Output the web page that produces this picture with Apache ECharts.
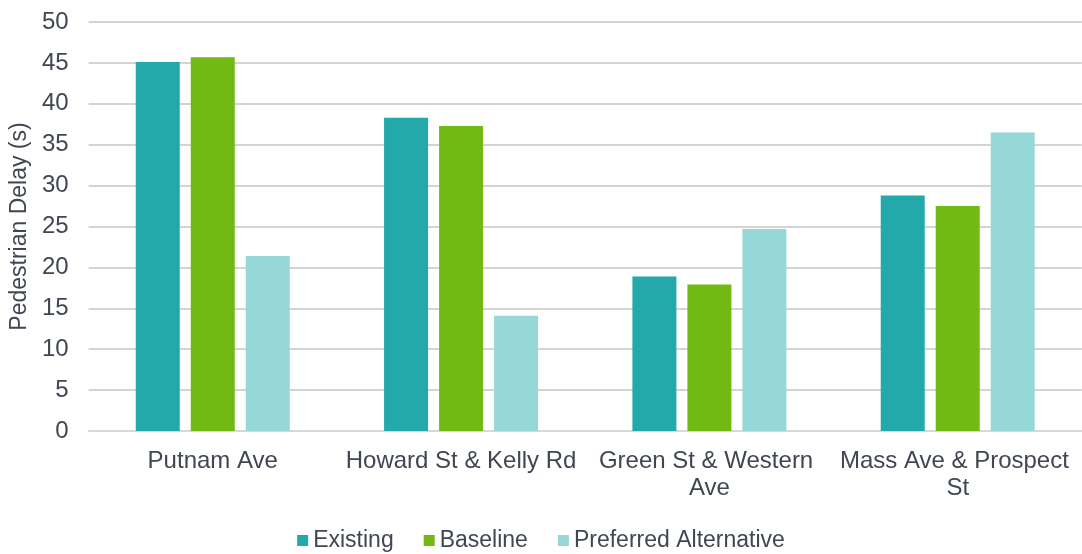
<!DOCTYPE html>
<html><head><meta charset="utf-8">
<script src="https://cdn.jsdelivr.net/npm/echarts@6/dist/echarts.min.js"></script>
<style>html,body{margin:0;padding:0;background:#fff}#c{width:1082px;height:554px}</style>
</head><body><div id="c"></div>
<script>
const categories = ['Putnam Ave', 'Howard St & Kelly Rd', 'Green St & Western Ave', 'Mass Ave & Prospect St'];
const existing = [45.1, 38.3, 18.9, 28.8];
const baseline = [45.7, 37.3, 17.9, 27.5];
const preferred = [21.4, 14.1, 24.7, 36.5];
const yTicks = { min: 0, max: 50, interval: 5 };

const txt = '#404652';
const chart = echarts.init(document.getElementById('c'));
chart.setOption({
  animation: false,
  textStyle: { fontFamily: 'Liberation Sans, Arial, sans-serif' },
  grid: { left: 88, right: -5, top: 22, bottom: 123 },
  legend: {
    top: 524, left: 'center', itemWidth: 11, itemHeight: 11, itemGap: 30,
    icon: 'rect',
    textStyle: { fontSize: 23, color: txt },
    data: ['Existing', 'Baseline', 'Preferred Alternative']
  },
  xAxis: {
    type: 'category', data: categories,
    axisTick: { show: false },
    axisLine: { lineStyle: { color: '#D9D9D9', width: 1.5 } },
    axisLabel: { fontSize: 24, color: txt, margin: 17, width: 244, overflow: 'break', lineHeight: 27, interval: 0 }
  },
  yAxis: {
    type: 'value', min: yTicks.min, max: yTicks.max, interval: yTicks.interval,
    name: 'Pedestrian Delay (s)', nameLocation: 'middle', nameGap: 56,
    nameTextStyle: { fontSize: 23, color: txt },
    axisLabel: { fontSize: 24, color: txt, margin: 20 },
    splitLine: { lineStyle: { color: '#C6C6C6', width: 1.5 } },
    axisLine: { show: false }, axisTick: { show: false }
  },
  series: [
    { name: 'Existing', type: 'bar', data: existing, barWidth: 44, barGap: '25%', itemStyle: { color: '#24A9AA' } },
    { name: 'Baseline', type: 'bar', data: baseline, barWidth: 44, barGap: '25%', itemStyle: { color: '#72B913' } },
    { name: 'Preferred Alternative', type: 'bar', data: preferred, barWidth: 44, barGap: '25%', itemStyle: { color: '#96D8D8' } }
  ]
});
</script></body></html>
